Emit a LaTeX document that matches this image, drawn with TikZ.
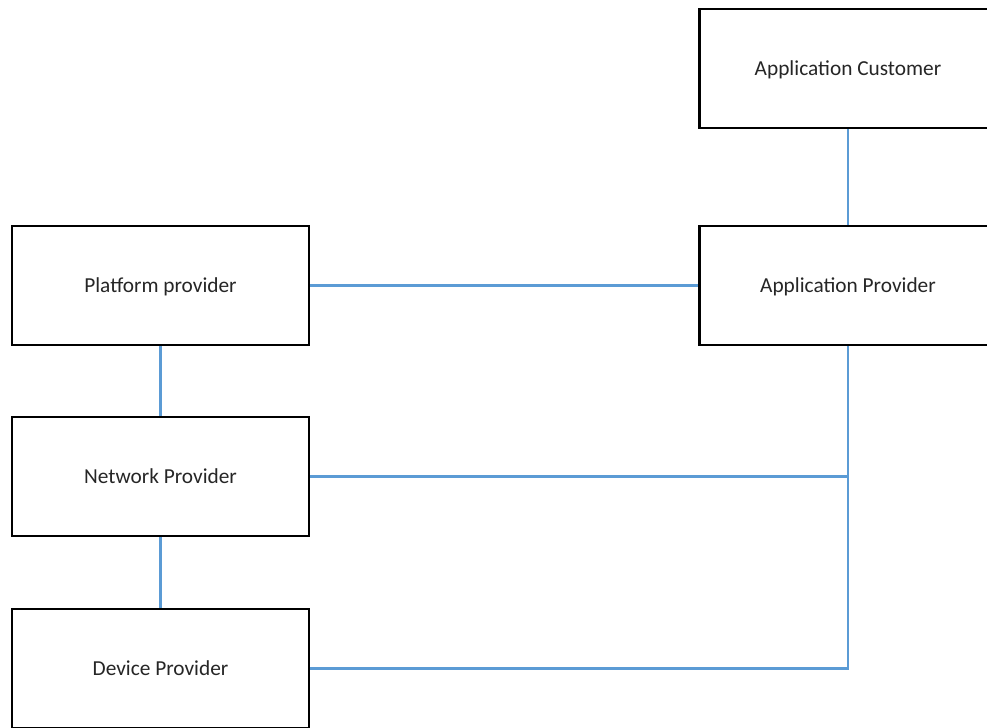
\documentclass[tikz,border=0pt]{standalone}
\usepackage{fontspec}
\setmainfont{Carlito}
\usepackage{xcolor}
\usepackage{tikz}
\usetikzlibrary{calc}

\definecolor{linkblue}{HTML}{5B9BD5}

\tikzset{
  rolebox/.style={draw=black, line width=2pt, fill=white, minimum width=222.75pt, minimum height=89.25pt, text depth=0pt, font=\fontsize{16pt}{19pt}\selectfont, text=black!85},
  link/.style={draw=linkblue, line width=1.6pt}
}

\begin{document}
\begin{tikzpicture}[x=0.75pt,y=-0.75pt]
\useasboundingbox (0,0) rectangle (987,727);
\clip (0,0) rectangle (987,727);

\node[rolebox] (customer) at (848,68.5) {Application Customer};
\node[rolebox] (appprov) at (848,285.5) {Application Provider};

\node[rolebox] (platform) at (160.5,285.5) {Platform provider};
\node[rolebox] (network) at (160.5,476.5) {Network Provider};
\node[rolebox] (device) at (160.5,668.5) {Device Provider};

\draw[link] (customer.south) -- (appprov.north);
\draw[link] (platform.east) -- (appprov.west);
\draw[link] (platform.south) -- (network.north);
\draw[link] (network.south) -- (device.north);
\draw[link] (appprov.south) |- (device.east);
\draw[link] (network.east) -- (network.east -| appprov.south);
\end{tikzpicture}
\end{document}
